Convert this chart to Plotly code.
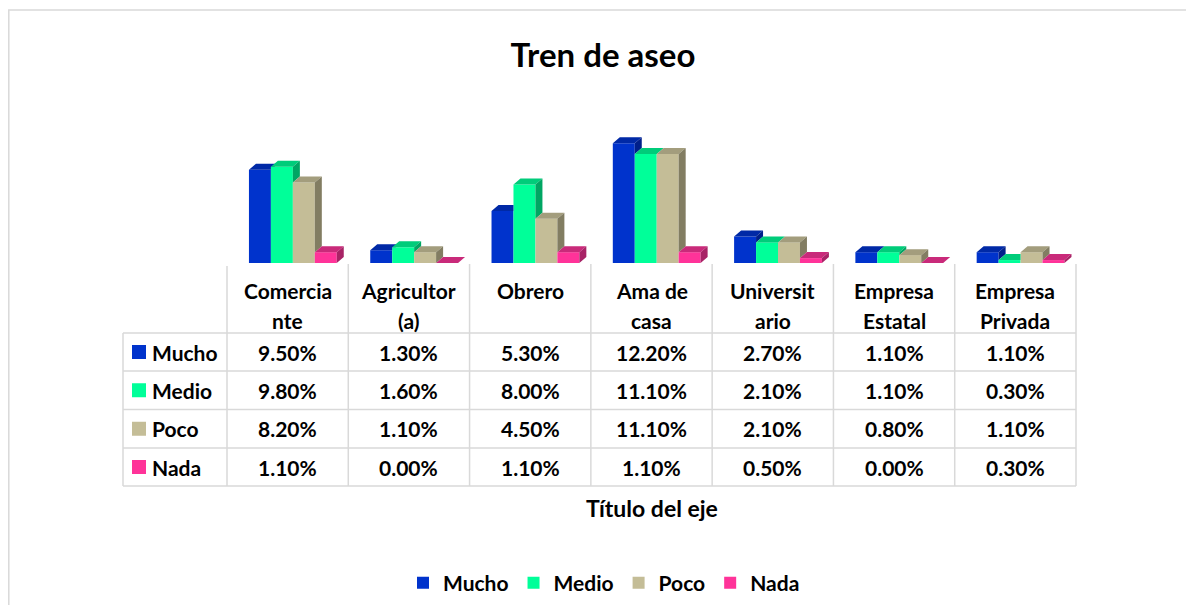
import plotly.graph_objects as go

# data
CATEGORIES = ["Comercia\nnte", "Agricultor\n(a)", "Obrero", "Ama de\ncasa",
              "Universit\nario", "Empresa\nEstatal", "Empresa\nPrivada"]
SERIES = ["Mucho", "Medio", "Poco", "Nada"]
MUCHO = [9.5, 1.3, 5.3, 12.2, 2.7, 1.1, 1.1]
MEDIO = [9.8, 1.6, 8.0, 11.1, 2.1, 1.1, 0.3]
POCO = [8.2, 1.1, 4.5, 11.1, 2.1, 0.8, 1.1]
NADA = [1.1, 0.0, 1.1, 1.1, 0.5, 0.0, 0.3]
VALUES = [MUCHO, MEDIO, POCO, NADA]

# front / top / side colours per series
COLORS = [
    ("#0033CC", "#0029A6", "#001F8A"),
    ("#00FF99", "#00CC7A", "#00A663"),
    ("#C4BD97", "#A39D7D", "#827D62"),
    ("#FF3399", "#C92A7A", "#A82366"),
]

W, H = 1194, 613
OFF = 8  # page body margin around the figure
FW, FH = W - 2 * OFF, H - 2 * OFF
FONT = "Lato"
GRID = "#D9D9D9"

# page layout in window pixels
PLOT_L, PLOT_R = 227, 1076
BASE_Y, TOP_Y = 263, 100
PX_PER_PCT = 9.82
COL_W = (PLOT_R - PLOT_L) / len(CATEGORIES)

# bar geometry (category units / percent)
BAR_W = 0.181
GROUP_START = -0.319
DX = 7 / COL_W
DY = 6 / PX_PER_PCT


def px(x):
    return (x - OFF) / FW


def py(y):
    return 1 - (y - OFF) / FH


def top_face(x0, x1, v, h):
    # top parallelogram, minus the part hidden behind the next bar's front
    hc = min(max(h, v), v + DY)
    return ([x0, x1, x1, x1 + (hc - v) * DX / DY, x1 + DX, x0 + DX, x0],
            [v, v, hc, hc, v + DY, v + DY, v])


def side_face(x1, lo, v):
    return ([x1, x1 + DX, x1 + DX, x1, x1], [lo, lo + DY, v + DY, v, lo])


fig = go.Figure()
idx = list(range(len(CATEGORIES)))

for s, (name, vals) in enumerate(zip(SERIES, VALUES)):
    front, top, side = COLORS[s]
    off = GROUP_START + s * BAR_W
    fig.add_trace(go.Bar(
        x=idx, y=vals, name=name, offset=off, width=BAR_W,
        marker=dict(color=front, line=dict(width=0)),
        hoverinfo="skip",
    ))

for s, vals in enumerate(VALUES):
    front, top, side = COLORS[s]
    off = GROUP_START + s * BAR_W
    nxt = VALUES[s + 1] if s + 1 < len(VALUES) else None
    tx, ty, sx, sy = [], [], [], []
    for i, v in enumerate(vals):
        x0 = i + off
        x1 = x0 + BAR_W
        h = nxt[i] if nxt else -1.0
        a, b = top_face(x0, x1, v, h)
        tx += a + [None]
        ty += b + [None]
        lo = max(h, 0.0)
        if lo < v:
            a, b = side_face(x1, lo, v)
            sx += a + [None]
            sy += b + [None]
    for xs, ys, c in ((tx, ty, top), (sx, sy, side)):
        if xs:
            fig.add_trace(go.Scatter(
                x=xs, y=ys, mode="lines", fill="toself", fillcolor=c,
                line=dict(width=0, color=c), hoverinfo="skip", showlegend=False,
            ))

shapes = []
annotations = []

# outer chart border
shapes.append(dict(type="rect", xref="paper", yref="paper",
                   x0=px(8.8), x1=px(1230), y0=py(650), y1=py(10),
                   line=dict(color=GRID, width=1.5), fillcolor="rgba(0,0,0,0)"))

# data table
TABLE_L = 123
ROW_LINES = [333, 371, 409.5, 448, 486]
edges = [PLOT_L + k * COL_W for k in range(len(CATEGORIES) + 1)]
for y in ROW_LINES:
    shapes.append(dict(type="line", xref="paper", yref="paper",
                       x0=px(TABLE_L), x1=px(PLOT_R), y0=py(y), y1=py(y),
                       line=dict(color=GRID, width=1.5)))
shapes.append(dict(type="line", xref="paper", yref="paper",
                   x0=px(TABLE_L), x1=px(TABLE_L), y0=py(ROW_LINES[0]), y1=py(ROW_LINES[-1]),
                   line=dict(color=GRID, width=1.5)))
for k, xe in enumerate(edges):
    shapes.append(dict(type="line", xref="paper", yref="paper",
                       x0=px(xe), x1=px(xe), y0=py(264 if k else 266), y1=py(ROW_LINES[-1]),
                       line=dict(color=GRID, width=1.5)))

txt = dict(family=FONT, size=21, color="#000000", weight="bold")

for i, cat in enumerate(CATEGORIES):
    xc = PLOT_L + COL_W * (i + 0.5)
    for j, part in enumerate(cat.split("\n")):
        annotations.append(dict(xref="paper", yref="paper", x=px(xc), y=py(290 + 30 * j),
                                text=part, showarrow=False, font=txt,
                                xanchor="center", yanchor="middle"))

for r, (name, vals) in enumerate(zip(SERIES, VALUES)):
    yc = (ROW_LINES[r] + ROW_LINES[r + 1]) / 2
    shapes.append(dict(type="rect", xref="paper", yref="paper",
                       x0=px(132), x1=px(146), y0=py(yc + 7), y1=py(yc - 7),
                       line=dict(width=0), fillcolor=COLORS[r][0]))
    annotations.append(dict(xref="paper", yref="paper", x=px(150), y=py(yc),
                            text=name, showarrow=False, font=txt,
                            xanchor="left", yanchor="middle"))
    for i, v in enumerate(vals):
        xc = PLOT_L + COL_W * (i + 0.5)
        annotations.append(dict(xref="paper", yref="paper", x=px(xc), y=py(yc),
                                text=f"{v:.2f}%", showarrow=False, font=txt,
                                xanchor="center", yanchor="middle"))

# axis title
annotations.append(dict(xref="paper", yref="paper", x=px(652), y=py(508),
                        text="Título del eje", showarrow=False,
                        font=dict(txt, size=23),
                        xanchor="center", yanchor="middle"))

fig.update_layout(
    width=FW, height=FH,
    margin=dict(l=0, r=0, t=0, b=0),
    paper_bgcolor="#FFFFFF", plot_bgcolor="#FFFFFF",
    barmode="overlay",
    title=dict(text="Tren de aseo", x=px(603), y=py(55), xanchor="center", yanchor="middle",
               font=dict(family=FONT, size=33, color="#000000", weight="bold")),
    xaxis=dict(domain=[px(PLOT_L), px(PLOT_R)], range=[-0.5, len(CATEGORIES) - 0.5],
               visible=False, fixedrange=True),
    yaxis=dict(domain=[py(BASE_Y), py(TOP_Y)], range=[0, (BASE_Y - TOP_Y) / PX_PER_PCT],
               visible=False, fixedrange=True),
    legend=dict(orientation="h", x=px(604), xanchor="center", y=py(583), yanchor="middle",
                font=dict(family=FONT, size=21, color="#000000", weight="bold"),
                itemclick=False, itemdoubleclick=False),
    shapes=shapes,
    annotations=annotations,
    showlegend=True,
)

fig.write_html("out.html")
